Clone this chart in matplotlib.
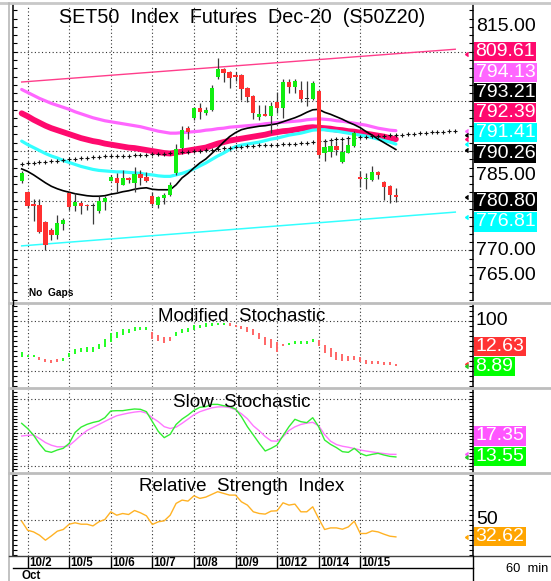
import matplotlib.pyplot as plt
import numpy as np
from matplotlib.lines import Line2D
from matplotlib import transforms

plt.rcParams['font.family'] = ['Liberation Sans', 'DejaVu Sans']

W, H = 551, 581

# ---- data (60 min bars, 10/1 last bar .. 10/15) ----
days = ['10/2', '10/5', '10/6', '10/7', '10/8', '10/9', '10/12', '10/14', '10/15']
day_start = [1, 8, 15, 22, 29, 36, 43, 50, 57]

opens = [784.0, 781.8, 779.3, 779.1, 775.8, 774.0, 773.0, 775.3,
         781.5, 778.9, 779.5, 779.2, 779.0, 777.9, 779.7,
         784.0, 784.6, 783.2, 784.6, 783.5, 785.3, 784.8,
         780.9, 779.2, 780.5, 781.2, 785.5, 790.7, 794.7,
         796.6, 798.6, 797.6, 798.3, 804.9, 806.5, 805.9,
         805.3, 805.3, 802.6, 801.1, 796.8, 797.4, 797.0,
         799.9, 798.6, 803.9, 802.8, 802.2, 800.5, 800.4,
         802.0, 789.6, 789.9, 791.0, 787.8, 789.7, 791.0,
         784.7, 784.3, 784.2, 785.8, 783.8, 783.0, 781.2]
highs = [786.0, 782.0, 780.4, 780.4, 776.0, 774.6, 777.2, 776.6,
         781.8, 781.5, 779.9, 779.3, 779.6, 780.9, 780.9,
         785.1, 785.5, 786.1, 784.8, 786.8, 786.1, 785.8,
         781.8, 780.9, 781.5, 783.8, 791.4, 795.0, 795.0,
         798.9, 799.6, 798.9, 803.2, 808.8, 806.8, 806.1,
         805.9, 805.5, 802.9, 801.3, 799.3, 799.3, 799.9,
         801.9, 804.5, 804.5, 804.5, 804.2, 804.2, 804.2,
         802.2, 792.2, 792.3, 792.0, 792.0, 792.6, 794.0,
         785.9, 785.5, 787.0, 785.9, 783.9, 783.2, 782.6]
lows = [783.5, 778.6, 775.9, 773.5, 770.1, 772.0, 772.3, 774.0,
        778.1, 777.9, 777.4, 778.1, 775.3, 777.6, 778.2,
        783.9, 781.8, 783.2, 783.5, 781.8, 783.2, 783.8,
        778.9, 778.6, 779.3, 780.9, 785.1, 790.4, 792.5,
        796.3, 796.4, 797.3, 798.0, 804.5, 803.9, 802.6,
        804.2, 800.3, 799.9, 796.4, 796.3, 797.0, 793.7,
        797.6, 796.6, 801.6, 801.6, 799.9, 799.0, 800.3,
        788.6, 787.9, 788.7, 789.3, 787.6, 789.6, 790.8,
        782.8, 782.4, 783.9, 784.3, 780.2, 779.5, 779.7]
closes = [785.6, 778.9, 778.9, 773.6, 771.0, 773.0, 775.6, 776.1,
          778.7, 779.7, 779.0, 778.9, 779.0, 779.9, 780.5,
          784.8, 783.5, 784.6, 784.1, 785.4, 784.6, 783.9,
          779.3, 780.7, 781.2, 783.2, 790.4, 794.3, 793.8,
          798.6, 797.8, 798.3, 802.6, 806.5, 805.7, 804.7,
          805.0, 802.4, 800.8, 797.6, 797.4, 797.1, 799.0,
          798.6, 803.9, 802.9, 804.2, 800.4, 800.5, 803.7,
          789.2, 790.9, 791.0, 790.3, 789.9, 791.2, 793.7,
          784.3, 784.4, 785.7, 785.1, 782.8, 781.2, 780.8]

ma_black = [786.4, 785.9, 785.2, 784.4, 783.6, 782.9, 782.4, 782.0, 781.7, 781.4,
            781.2, 781.0, 780.9, 780.9, 781.0, 781.3, 781.5, 781.8, 782.0, 782.3,
            782.5, 782.6, 782.3, 782.2, 782.2, 782.2, 783.2, 784.6, 785.5, 786.6,
            787.6, 788.4, 789.5, 790.6, 791.8, 792.9, 793.7, 794.3, 794.6, 794.8,
            795.0, 795.1, 795.3, 795.5, 795.9, 796.3, 796.7, 797.2, 797.8, 798.3,
            798.4, 797.8, 797.4, 796.9, 796.4, 795.8, 795.3, 794.7, 793.9, 793.2,
            792.4, 791.7, 791.0, 790.3]
ma_violet = [802.4, 801.8, 801.2, 800.6, 800.1, 799.6, 799.2, 798.8, 798.4, 797.9,
             797.5, 797.1, 796.7, 796.4, 796.1, 795.9, 795.7, 795.5, 795.3, 795.1,
             794.9, 794.6, 794.3, 794.0, 793.8, 793.6, 793.6, 793.7, 793.8, 793.9,
             794.0, 794.2, 794.3, 794.5, 794.6, 794.8, 794.9, 795.0, 795.1, 795.2,
             795.3, 795.5, 795.6, 795.7, 795.8, 795.9, 796.0, 796.1, 796.3, 796.4,
             796.5, 796.4, 796.3, 796.1, 796.0, 795.8, 795.6, 795.4, 795.2, 794.9,
             794.6, 794.4, 794.2, 794.1]
ma_pink = [797.6, 797.0, 796.3, 795.7, 795.1, 794.6, 794.2, 793.8, 793.4, 793.0,
           792.6, 792.3, 792.0, 791.8, 791.5, 791.3, 791.1, 790.9, 790.7, 790.6,
           790.4, 790.2, 790.0, 789.8, 789.6, 789.5, 789.7, 789.9, 790.1, 790.3,
           790.5, 790.7, 791.1, 791.5, 791.8, 792.1, 792.3, 792.5, 792.7, 792.9,
           793.1, 793.3, 793.6, 793.8, 794.0, 794.1, 794.3, 794.5, 794.7, 794.8,
           794.7, 794.6, 794.5, 794.3, 794.2, 794.0, 793.9, 793.7, 793.5, 793.3,
           793.1, 792.9, 792.6, 792.4]
ma_cyan = [792.0, 791.3, 790.7, 790.1, 789.5, 789.0, 788.6, 788.1, 787.7, 787.3,
           786.9, 786.6, 786.3, 786.1, 786.0, 785.9, 785.8, 785.8, 785.7, 785.6,
           785.5, 785.3, 785.2, 785.0, 784.9, 784.9, 785.2, 785.5, 785.9, 786.4,
           787.0, 787.6, 788.3, 789.0, 789.6, 790.3, 790.9, 791.2, 791.4, 791.6,
           791.8, 792.1, 792.4, 792.6, 792.9, 793.2, 793.4, 793.6, 793.9, 794.2,
           794.3, 794.3, 794.1, 794.0, 793.8, 793.6, 793.4, 793.2, 793.0, 792.7,
           792.4, 792.1, 791.8, 791.4]
# displaced average, runs 10 bars past the last candle
ma_dotted = [787.4, 787.5, 787.6, 787.7, 787.8, 787.9, 788.0, 788.2, 788.3, 788.4,
             788.5, 788.6, 788.7, 788.8, 788.9, 788.9, 789.0, 789.1, 789.1, 789.2,
             789.3, 789.3, 789.4, 789.5, 789.5, 789.6, 789.7, 789.8, 789.9, 790.0,
             790.1, 790.2, 790.3, 790.4, 790.6, 790.7, 790.8, 790.9, 791.0, 791.1,
             791.2, 791.2, 791.3, 791.3, 791.4, 791.4, 791.5, 791.6, 791.7, 791.8,
             792.0, 792.1, 792.3, 792.4, 792.5, 792.6, 792.7, 792.8, 792.9, 793.0,
             793.0, 793.1, 793.2, 793.2, 793.3, 793.4, 793.5, 793.6, 793.7, 793.8,
             793.9, 793.9, 794.0, 794.1]
chan_x = [0, 73]
chan_top = [803.9, 810.5]
chan_bot = [770.9, 777.7]

mod_k = [37.1, 30.3, 30.0, 20.5, 16.6, 15.2, 18.5, 24.5, 35.1, 43.0,
         45.0, 47.0, 48.3, 53.0, 62.9, 76.2, 78.1, 82.8, 84.1, 86.8,
         88.1, 86.8, 62.9, 59.6, 56.3, 59.6, 78.1, 82.8, 86.1, 91.4,
         92.1, 94.7, 94.7, 96.0, 94.7, 91.5, 88.0, 82.8, 78.1, 71.5,
         62.9, 51.7, 45.0, 38.4, 49.7, 55.0, 58.3, 58.3, 58.3, 63.6,
         49.7, 35.1, 27.2, 20.5, 18.5, 18.5, 20.5, 16.6, 13.9, 13.9,
         13.9, 11.9, 10.6, 8.89]
mod_d = [27.2, 28.8, 28.8, 27.2, 23.2, 21.2, 22.5, 19.9, 27.2, 33.8,
         37.1, 38.4, 38.4, 43.7, 48.3, 58.3, 64.9, 71.5, 74.8, 79.5,
         81.5, 81.5, 78.1, 71.5, 66.9, 66.9, 69.5, 74.8, 76.8, 81.5,
         85.4, 88.1, 90.1, 91.4, 92.0, 93.4, 91.0, 89.4, 86.8, 82.8,
         76.2, 68.2, 62.9, 58.3, 53.6, 52.3, 54.3, 54.3, 54.9, 57.0,
         61.6, 51.7, 45.0, 38.4, 33.8, 29.8, 28.5, 26.5, 21.9, 19.9,
         18.5, 17.2, 16.6, 12.63]

slow_k = [63.7, 56.0, 46.0, 33.0, 22.4, 20.4, 23.9, 26.4, 33.8, 50.2,
          58.0, 62.2, 65.0, 67.0, 72.1, 82.1, 82.6, 82.6, 84.0, 85.1,
          84.6, 81.1, 66.2, 51.7, 42.3, 47.3, 62.0, 70.0, 76.0, 83.0,
          87.6, 88.6, 92.0, 92.0, 90.0, 88.6, 85.1, 73.6, 58.7, 46.3,
          33.8, 22.4, 26.4, 31.3, 45.3, 58.7, 69.7, 66.2, 64.7, 72.1,
          58.7, 38.8, 32.3, 27.4, 21.4, 20.4, 26.4, 18.9, 15.4, 17.4,
          18.9, 16.4, 14.4, 13.55]
slow_d = [44.8, 45.8, 46.3, 41.0, 35.0, 31.0, 28.6, 28.7, 30.5, 38.0,
          46.0, 53.0, 57.5, 62.0, 66.5, 71.0, 75.0, 77.1, 79.0, 80.5,
          81.5, 79.0, 72.0, 66.2, 58.7, 56.0, 58.0, 63.7, 70.0, 76.5,
          81.1, 84.0, 86.8, 88.2, 88.4, 87.2, 84.0, 78.0, 70.5, 60.0,
          52.5, 44.0, 37.5, 37.0, 43.8, 53.0, 58.5, 62.0, 64.0, 65.2,
          60.0, 47.0, 37.0, 32.0, 29.5, 28.0, 26.0, 23.9, 22.3, 21.0,
          19.6, 18.6, 17.5, 17.35]

rsi = [48.3, 39.3, 37.6, 34.3, 29.3, 33.6, 38.3, 40.0, 45.3, 46.7,
       45.3, 45.3, 43.6, 47.7, 50.0, 57.7, 54.3, 56.0, 55.0, 59.0,
       56.7, 53.7, 45.0, 47.7, 48.7, 54.3, 66.1, 69.4, 68.4, 73.7,
       71.1, 72.4, 75.1, 77.8, 76.1, 74.4, 74.4, 67.7, 64.4, 57.7,
       56.0, 55.4, 58.4, 58.7, 66.7, 64.4, 65.4, 57.7, 57.7, 62.7,
       51.0, 40.0, 41.6, 41.6, 40.3, 42.6, 48.3, 36.0, 36.0, 38.6,
       37.6, 35.3, 33.3, 32.62]

# price scale labels that are not covered by a value box
price_ticks = [815, 775, 770, 765, 785]
price_labels = ['809.61', '794.13', '793.21', '792.39', '791.41', '790.26', '780.80', '776.81']
price_label_colors = ['#FF0A6E', '#FF66FF', '#000000', '#FF0A6E', '#00FFFF', '#000000', '#000000', '#00FFFF']
price_label_vals = [809.61, 794.13, 793.21, 792.39, 791.41, 790.26, 780.80, 776.81]

# ---- layout helpers (pixel -> figure fraction) ----
def fx(px):
    return px / W

def fy(py):
    return 1 - py / H

L, R = 13.3, 472.5
XLIM = (-1.41, 75.9)

fig = plt.figure(figsize=(W / 100, H / 100), dpi=100)

def panel(top, bottom, ylim):
    ax = fig.add_axes([fx(L), fy(bottom), fx(R) - fx(L), (bottom - top) / H])
    ax.set_xlim(*XLIM)
    ax.set_ylim(*ylim)
    for s in ['top', 'bottom']:
        ax.spines[s].set_visible(False)
    for s in ['left', 'right']:
        ax.spines[s].set_linewidth(1.1)
    ax.set_xticks([])
    ax.set_yticks([])
    ax.tick_params(axis='y', which='minor', left=True, right=True, direction='in',
                   length=3, width=0.8)
    for d in day_start:
        ax.axvline(d, color='#333333', lw=0.8, ls=(0, (1, 2.2)), zorder=1)
    return ax

grid_kw = dict(color='#333333', lw=0.8, ls=(0, (1, 2.2)), zorder=1)

def value_box(s, col, py):
    fig.text(fx(475.6), fy(py), s, color='white', fontsize=14, ha='left', va='center',
             bbox=dict(boxstyle='square,pad=0.06', fc=col, ec='none'), zorder=20)

ax = panel(5, 300, (761.57, 819.41))
ax.set_yticks(np.arange(760, 820, 10 / 6), minor=True)
for g in [770, 780, 790, 800, 810]:
    ax.axhline(g, **grid_kw)

ax.plot(chan_x, chan_top, color='#FF3D8B', lw=1.0, zorder=2)
ax.plot(chan_x, chan_bot, color='#33FFFF', lw=1.1, zorder=2)
x = np.arange(len(closes))
ax.plot(x, ma_violet, color='#FF66FF', lw=2.3, zorder=3, solid_capstyle='round')
ax.plot(x, ma_pink, color='#FF0A6E', lw=4.2, zorder=3, solid_capstyle='round')
ax.plot(x, ma_cyan, color='#33FFFF', lw=2.3, zorder=3, solid_capstyle='round')
ax.plot(x, ma_black, color='black', lw=1.2, zorder=4)
ax.plot(np.arange(len(ma_dotted)), ma_dotted, ls='none', marker='+', ms=2.4,
        mew=0.8, color='#111111', zorder=4)

o = np.array(opens)
c = np.array(closes)
body_col = np.where(c > o, '#11EE11', np.where(c < o, '#FF3030', '#303030'))
ax.vlines(x, lows, highs, color='#3A3A3A', lw=0.9, zorder=5)
ax.bar(x, np.maximum(np.abs(c - o), 0.2), bottom=np.minimum(o, c), width=0.72,
       color=body_col, zorder=6)

ax.text(0.498, 0.958, 'SET50  Index  Futures  Dec-20  (S50Z20)', transform=ax.transAxes,
        ha='center', va='center', fontsize=14.2, zorder=10)
ax.text(0.034, 0.024, 'No  Gaps', transform=ax.transAxes, ha='left', va='center',
        fontsize=7.3, fontweight='bold')

ytr = transforms.blended_transform_factory(ax.transAxes, ax.transData)
for p in price_ticks:
    ax.text(1.0076, p, f'{p:.2f}', transform=ytr, ha='left', va='center',
            fontsize=14, clip_on=False)
for v, col in zip([chan_top[0] + (chan_top[1] - chan_top[0]) * 63 / 73] + price_label_vals[1:],
                  price_label_colors):
    ax.plot([74.6], [v], marker=4, ms=2.5, color=col, ls='none', clip_on=False, zorder=7)

box_y = [51.7, 72.5, 92.5, 112.5, 132.5, 153.5, 201.5, 222.0]
for s, col, py in zip(price_labels, price_label_colors, box_y):
    value_box(s, col, py)

# ---- Modified Stochastic ----
ax2 = panel(305, 386.5, (-31.6, 131.4))
ax2.set_yticks(np.arange(-30, 131, 10), minor=True)
for g in [0, 100]:
    ax2.axhline(g, **grid_kw)
k = np.array(mod_k)
d = np.array(mod_d)
lo = np.minimum(k, d)
hi = np.maximum(k, d)
mid = (lo + hi) / 2
lo = np.minimum(lo, mid - 2.2)
hi = np.maximum(hi, mid + 2.2)
ax2.vlines(x, lo, hi, colors=np.where(k >= d, '#22FF22', '#FF6666'), lw=1.4, zorder=3)
ax2.text(0.497, 0.86, 'Modified  Stochastic', transform=ax2.transAxes, ha='center',
         va='center', fontsize=13.5, zorder=10)
ytr2 = transforms.blended_transform_factory(ax2.transAxes, ax2.transData)
ax2.text(1.0076, 100, '100', transform=ytr2, ha='left', va='center', fontsize=14,
         clip_on=False)
ax2.plot([74.6], [12.63], marker=4, ms=2.5, color='#FF3333', clip_on=False)
ax2.plot([74.6], [8.89], marker=4, ms=2.5, color='#22CC22', clip_on=False)
for s, col, py in zip(['12.63', '8.89'], ['#FF3333', '#00FF00'], [346.3, 366.7]):
    value_box(s, col, py)

# ---- Slow Stochastic ----
ax3 = panel(389.5, 471.5, (-8.2, 114.2))
ax3.set_yticks(np.arange(-5, 115, 5), minor=True)
for g in [0, 50, 100]:
    ax3.axhline(g, **grid_kw)
ax3.plot(x, slow_d, color='#FF77FF', lw=1.0, zorder=3)
ax3.plot(x, slow_k, color='#33EE33', lw=1.0, zorder=4)
ax3.text(0.497, 0.84, 'Slow  Stochastic', transform=ax3.transAxes, ha='center',
         va='center', fontsize=13.5, zorder=10)
ax3.plot([74.6], [17.35], marker=4, ms=2.5, color='#FF55FF', clip_on=False)
ax3.plot([74.6], [13.55], marker=4, ms=2.5, color='#22CC22', clip_on=False)
for s, col, py in zip(['17.35', '13.55'], ['#FF55FF', '#00FF00'], [436.0, 456.7]):
    value_box(s, col, py)

# ---- RSI ----
ax4 = panel(473.5, 556, (13.5, 96.0))
ax4.set_yticks(np.arange(15, 96, 5), minor=True)
ax4.axhline(50, **grid_kw)
ax4.plot(x, rsi, color='#FFB224', lw=1.0, zorder=3)
ax4.text(0.497, 0.84, 'Relative  Strength  Index', transform=ax4.transAxes, ha='center',
         va='center', fontsize=13.5, zorder=10)
ytr4 = transforms.blended_transform_factory(ax4.transAxes, ax4.transData)
ax4.text(1.0076, 50, '50', transform=ytr4, ha='left', va='center', fontsize=14,
         clip_on=False)
ax4.plot([74.6], [32.62], marker=4, ms=2.5, color='#FFA500', clip_on=False)
value_box('32.62', '#FFA500', 536.7)

# ---- date row ----
axd = fig.add_axes([fx(L), fy(568), fx(R) - fx(L), 12 / H])
axd.set_xlim(*XLIM)
axd.set_ylim(0, 1)
axd.axis('off')
for dlab, ds in zip(days, day_start):
    axd.plot([ds, ds], [0, 1], color='black', lw=1.0)
    axd.text(ds + 0.2, 0.45, dlab, ha='left', va='center', fontsize=8.3, fontweight='bold')
fig.text(fx(21.7), fy(576), 'Oct', ha='left', va='center', fontsize=8.3, fontweight='bold')
fig.text(fx(506.5), fy(569.5), '60  min', ha='left', va='center', fontsize=9.3)

# ---- frame lines ----
def fline(x0, y0, x1, y1, **kw):
    fig.add_artist(Line2D([fx(x0), fx(x1)], [fy(y0), fy(y1)], transform=fig.transFigure, **kw))

fline(0, 2.5, W, 2.5, color='#C8C8C8', lw=2.0)
fline(9.3, 2.5, 9.3, H, color='#B8B8B8', lw=1.2)
for sy in [302.5, 388.2, 472.6]:
    fline(9.3, sy, W, sy, color='#BDBDBD', lw=2.0)
fline(9.3, 556, W, 556, color='#404040', lw=1.0)
fline(L, 568, R, 568, color='black', lw=1.0)
fline(R, 556, R, H, color='black', lw=1.0)
fline(L, 300, L, 305, color='black', lw=1.0)

fig.savefig('out.png', dpi=100)
